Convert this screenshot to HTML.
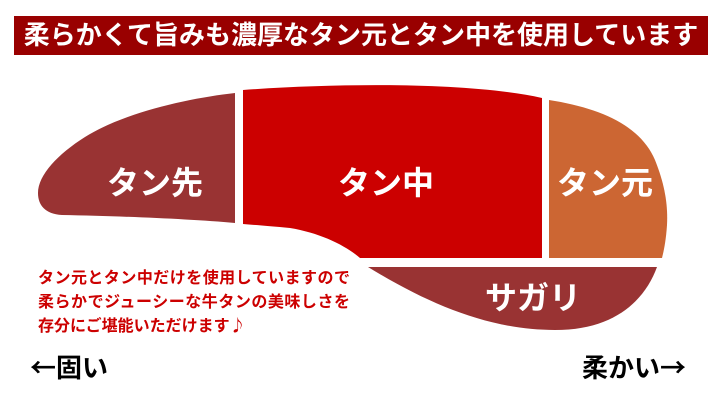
<!DOCTYPE html>
<html><head><meta charset="utf-8"><style>
html,body{margin:0;padding:0;background:#fff;}
body{width:720px;height:400px;position:relative;overflow:hidden;font-family:"Liberation Sans","Noto Sans CJK JP",sans-serif;}
</style></head><body>
<svg width="720" height="400" viewBox="0 0 720 400" xmlns="http://www.w3.org/2000/svg" style="position:absolute;left:0;top:0">
<rect x="14" y="16" width="694" height="39" fill="#990000"/>
<text x="361" y="44" text-anchor="middle" font-size="26" font-weight="bold" fill="#fff" font-family="Noto Sans CJK JP, sans-serif">柔らかくて旨みも濃厚なタン元とタン中を使用しています</text>
<path d="M235,93 C190,98 125,112 85,137 C58,154 38,175 38,193 C38,205 45,214 62,215 C120,216 190,219 235,223 Z" fill="#993333"/>
<path d="M243,90 C340,83 470,82 542,98 L542,258 L360,258 C345,245 320,233 290,228 C270,226 255,225 243,224 Z" fill="#cc0000"/>
<path d="M549,100 C600,108 640,125 655,160 C665,185 668,205 667,225 C666,240 664,250 662,258 L549,258 Z" fill="#cc6633"/>
<path d="M368,267 L657,267 C645,300 615,330 555,330 C490,330 430,305 368,267 Z" fill="#993333"/>
<g font-family="Noto Sans CJK JP, sans-serif" fill="#fff" font-size="32" font-weight="bold" text-anchor="middle">
<text x="155" y="194">タン先</text>
<text x="386" y="194">タン中</text>
<text x="605" y="194">タン元</text>
<text x="533" y="309">サガリ</text>
</g>
<g font-family="Noto Sans CJK JP, sans-serif" fill="#cc0000" font-size="16" font-weight="bold">
<text x="38" y="283" textLength="312">タン元とタン中だけを使用していますので</text>
<text x="38" y="307" textLength="312">柔らかでジューシーな牛タンの美味しさを</text>
<text x="38" y="331">存分にご堪能いただけます♪</text>
</g>
<g font-family="Noto Sans CJK JP, sans-serif" fill="#000" font-size="26" font-weight="bold">
<text x="30" y="377">←固い</text>
<text x="686" y="377" text-anchor="end">柔かい→</text>
</g>
</svg>
</body></html>
